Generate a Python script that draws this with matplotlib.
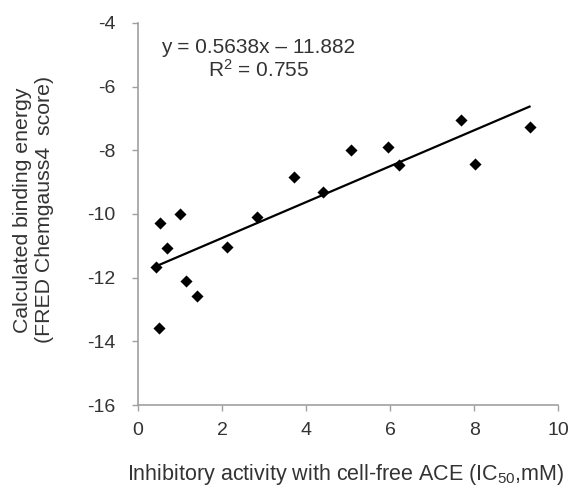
import matplotlib
matplotlib.use("Agg")
import matplotlib.pyplot as plt
import numpy as np

plt.rcParams['font.family'] = ['Liberation Sans', 'DejaVu Sans']
plt.rcParams['mathtext.fontset'] = 'custom'
plt.rcParams['mathtext.rm'] = 'Liberation Sans'
plt.rcParams['mathtext.default'] = 'regular'
plt.rcParams['axes.unicode_minus'] = False

# values
ic50 = [0.42, 0.52, 0.70, 0.99, 1.14, 1.41, 0.49, 2.11, 2.82, 3.71,
        4.40, 5.07, 5.95, 6.22, 7.69, 8.01, 9.32]
score = [-11.67, -10.29, -11.08, -10.00, -12.10, -12.59, -13.57, -11.05, -10.08, -8.84,
         -9.32, -7.98, -7.91, -8.47, -7.04, -8.42, -7.28]
slope = 0.5638
intercept = -11.882
x_ticks = [0, 2, 4, 6, 8, 10]
y_ticks = [-16, -14, -12, -10, -8, -6, -4]

text_col = '#333333'
spine_col = '#a0a0a0'

fig = plt.figure(figsize=(5.73, 4.88), dpi=100)
ax = fig.add_axes([0.241, 0.170, 0.733, 0.783])

ax.scatter(ic50, score, marker='D', s=38, color='black', zorder=3, linewidths=0)
xf = np.array([min(ic50), max(ic50)])
ax.plot(xf, slope * xf + intercept, color='black', lw=1.6, zorder=2)

ax.set_xlim(0, 10)
ax.set_ylim(-16, -4)
ax.set_xticks(x_ticks)
ax.set_yticks(y_ticks)
ax.tick_params(axis='x', direction='out', length=4.5, width=1, color=spine_col,
               labelsize=14, labelcolor=text_col, pad=8)
ax.tick_params(axis='y', direction='out', length=4.5, width=1, color=spine_col,
               labelsize=14, labelcolor=text_col, pad=12)
for side in ['top', 'right']:
    ax.spines[side].set_visible(False)
for side in ['left', 'bottom']:
    ax.spines[side].set_color(spine_col)
    ax.spines[side].set_linewidth(1.2)

ax.text(0.286, 0.921, 'y = 0.5638x \u2013 11.882', transform=ax.transAxes,
        ha='center', va='baseline', fontsize=15, color=text_col)
ax.text(0.286, 0.859, 'R$^{2}$ = 0.755', transform=ax.transAxes,
        ha='center', va='baseline', fontsize=15, color=text_col)

fig.text(0.604, 0.016, 'Inhibitory activity with cell-free ACE (IC$_{50}$,mM)',
         ha='center', va='baseline', fontsize=15.5, color=text_col)
fig.text(0.058, 0.570, 'Calculated binding energy\n(FRED Chemgauss4  score)',
         ha='center', va='center', rotation=90, fontsize=15.3, color=text_col)

fig.savefig('out.png', dpi=100)
